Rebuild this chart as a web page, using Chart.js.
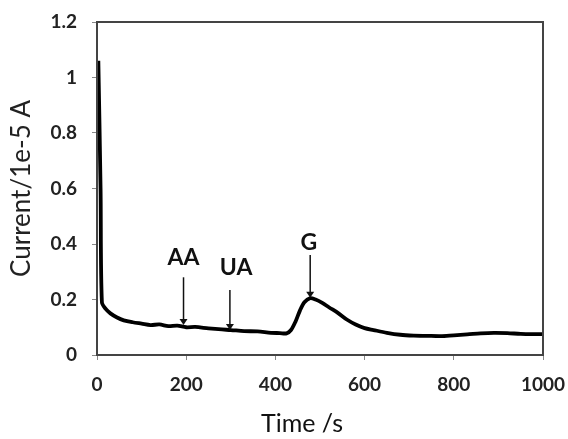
<!DOCTYPE html>
<html>
<head>
<meta charset="utf-8">
<script src="https://cdn.jsdelivr.net/npm/chart.js@4"></script>
<style>
  html, body { margin: 0; padding: 0; background: #fff; overflow: hidden; }
  #wrap { width: 568px; height: 439px; }
</style>
</head>
<body>
<div id="wrap"><canvas id="chart"></canvas></div>
<script>
// values
const times = [3, 8, 11, 20, 30, 45, 60, 80, 100, 120, 140, 160, 180, 200, 220, 250, 280, 300, 330, 360, 390, 410, 425, 435, 445, 455, 465, 478, 490, 505, 520, 540, 560, 580, 600, 620, 650, 680, 710, 740, 770, 800, 830, 860, 890, 920, 950, 980, 1000];
const current = [1.06, 0.6, 0.19, 0.165, 0.15, 0.135, 0.125, 0.118, 0.113, 0.108, 0.11, 0.104, 0.106, 0.1, 0.101, 0.096, 0.092, 0.09, 0.086, 0.085, 0.08, 0.079, 0.078, 0.09, 0.12, 0.16, 0.19, 0.205, 0.2, 0.188, 0.172, 0.152, 0.128, 0.11, 0.097, 0.09, 0.08, 0.073, 0.07, 0.069, 0.068, 0.071, 0.074, 0.078, 0.08, 0.079, 0.076, 0.075, 0.075];

const xTicks = [0, 200, 400, 600, 800, 1000];
const yTicks = [0, 0.2, 0.4, 0.6, 0.8, 1, 1.2];

// peak labels and their arrows
const markLabels = ['AA', 'UA', 'G'];
const markTextX = [194, 312, 475];
const markTextY = [0.35, 0.315, 0.405];
const arrowX = [194, 298, 478];
const arrowFrom = [0.28, 0.234, 0.36];
const arrowTo = [0.108, 0.09, 0.206];

const tickFont = { family: 'Lato', size: 19, weight: 'bold' };
const titleFont = { family: 'Lato', size: 26 };

const frame = {
  id: 'frame',
  afterDraw(chart) {
    const { ctx, chartArea: a, scales: { x, y } } = chart;
    ctx.save();
    ctx.strokeStyle = '#444';
    ctx.lineWidth = 2;
    ctx.strokeRect(a.left, a.top, a.right - a.left, a.bottom - a.top);

    // arrows
    ctx.strokeStyle = '#111';
    ctx.fillStyle = '#111';
    ctx.lineWidth = 1.5;
    arrowX.forEach((t, i) => {
      const px = x.getPixelForValue(t);
      const y0 = y.getPixelForValue(arrowFrom[i]);
      const y1 = y.getPixelForValue(arrowTo[i]);
      ctx.beginPath();
      ctx.moveTo(px, y0);
      ctx.lineTo(px, y1 - 4);
      ctx.stroke();
      ctx.beginPath();
      ctx.moveTo(px - 4, y1 - 6);
      ctx.lineTo(px + 4, y1 - 6);
      ctx.lineTo(px, y1);
      ctx.closePath();
      ctx.fill();
    });

    // labels
    ctx.font = 'bold 23px Lato';
    ctx.textAlign = 'center';
    ctx.textBaseline = 'middle';
    markLabels.forEach((s, i) => {
      ctx.fillText(s, x.getPixelForValue(markTextX[i]), y.getPixelForValue(markTextY[i]));
    });

    // x axis title, sits a bit left of centre in the original
    ctx.font = '25px Lato';
    ctx.fillText('Time /s', (a.left + a.right) / 2 - 18, 424);
    ctx.restore();
  }
};

new Chart(document.getElementById('chart'), {
  type: 'line',
  data: {
    datasets: [{
      data: times.map((t, i) => ({ x: t, y: current[i] })),
      borderColor: '#000',
      borderWidth: 3.8,
      pointRadius: 0,
      tension: 0.3,
      fill: false
    }]
  },
  options: {
    responsive: true,
    maintainAspectRatio: false,
    animation: false,
    layout: { padding: { top: 22, right: 25, left: 0, bottom: 0 } },
    plugins: { legend: { display: false }, tooltip: { enabled: false } },
    scales: {
      x: {
        type: 'linear',
        min: 0, max: 1000,
        afterBuildTicks: s => { s.ticks = xTicks.map(v => ({ value: v })); },
        afterFit: s => { s.height = 84; s.paddingRight = 0; s.paddingLeft = 0; },
        grid: { drawOnChartArea: false, tickLength: 5, color: '#888' },
        border: { color: '#555', width: 2 },
        ticks: { color: '#222', font: tickFont, padding: 13, maxRotation: 0, callback: v => String(v) }
      },
      y: {
        min: 0, max: 1.2,
        afterBuildTicks: s => { s.ticks = yTicks.map(v => ({ value: v })); },
        afterFit: s => { s.width = 97; s.paddingTop = 0; s.paddingBottom = 0; },
        grid: { drawOnChartArea: false, tickLength: 5, color: '#888' },
        border: { color: '#555', width: 2 },
        ticks: { color: '#222', font: tickFont, padding: 15, callback: v => String(v) },
        title: { display: true, text: 'Current/1e-5 A', color: '#222', font: titleFont, padding: { top: 6 } }
      }
    }
  },
  plugins: [frame]
});
</script>
</body>
</html>
